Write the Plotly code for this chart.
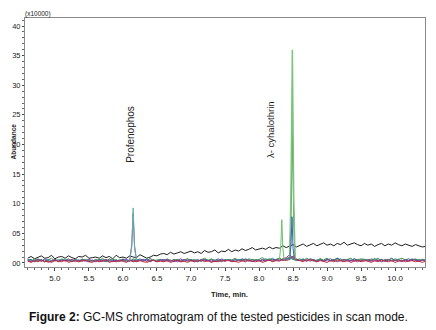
import plotly.graph_objects as go

# ---------------- data ----------------
time_min = [round(4.60 + 0.05 * i, 2) for i in range(118)]

black_trace = [0.8,1.1,0.7,1.0,1.2,0.8,0.9,1.3,0.7,1.0,1.1,0.8,1.2,0.9,0.7,1.1,1.0,1.3,0.8,0.9,
               1.0,0.8,1.2,0.9,1.1,0.7,1.3,0.9,1.0,0.8,1.2,1.0,0.9,1.4,1.1,0.8,1.0,1.3,1.2,1.5,
               1.6,1.4,1.8,1.5,1.7,1.9,1.6,1.8,2.0,1.7,1.9,1.6,2.1,1.8,1.9,2.2,1.7,2.0,1.9,2.3,
               1.9,2.2,2.0,2.4,2.1,2.3,2.6,2.2,2.4,2.5,2.3,2.7,2.4,2.6,2.5,2.9,2.6,2.8,3.1,2.7,
               2.9,3.2,2.8,3.0,3.3,2.9,3.1,3.4,3.0,3.2,2.9,3.3,3.1,3.5,3.0,3.2,3.4,3.1,2.9,3.3,
               3.0,3.2,2.8,3.1,3.3,2.9,3.2,3.0,3.4,3.1,2.9,3.2,3.0,2.8,3.1,2.9,2.7,2.8]

green_trace = [0.5,0.3,0.7,0.4,0.6,0.2,0.5,0.8,0.3,0.6,0.4,0.7,0.3,0.5,0.6,0.2,0.7,0.4,0.5,0.3,
               0.6,0.4,0.8,0.3,0.5,0.7,0.2,0.6,0.4,0.5,0.3,0.7,0.5,0.4,0.6,0.3,0.8,0.4,0.5,0.6,
               0.3,0.7,0.4,0.5,0.6,0.3,0.5,0.7,0.4,0.6,0.3,0.5,0.8,0.4,0.6,0.5,0.3,0.7,0.4,0.6,
               0.5,0.8,0.4,0.6,0.3,0.7,0.5,0.4,0.6,0.9,0.5,0.7,0.4,0.6,0.8,0.5,0.7,1.0,0.6,0.5,
               0.7,0.4,0.8,0.5,0.6,0.3,0.7,0.5,0.8,0.4,0.6,0.5,0.7,0.3,0.6,0.8,0.4,0.5,0.7,0.6,
               0.4,0.7,0.5,0.8,0.3,0.6,0.5,0.7,0.4,0.6,0.8,0.5,0.4,0.7,0.5,0.6,0.4,0.5]

red_trace = [0.3,0.1,0.4,0.2,0.5,0.2,0.3,0.1,0.4,0.3,0.2,0.5,0.1,0.3,0.4,0.2,0.3,0.5,0.2,0.1,
             0.4,0.2,0.3,0.5,0.1,0.3,0.2,0.4,0.3,0.1,0.5,0.2,0.3,0.4,0.2,0.1,0.3,0.5,0.2,0.3,
             0.2,0.4,0.1,0.3,0.5,0.2,0.3,0.1,0.4,0.2,0.3,0.5,0.2,0.4,0.1,0.3,0.2,0.4,0.3,0.5,
             0.2,0.3,0.1,0.4,0.2,0.5,0.3,0.2,0.4,0.1,0.3,0.5,0.2,0.4,0.3,0.6,0.4,0.6,1.2,0.7,
             0.4,0.2,0.6,0.3,0.5,0.2,0.4,0.3,0.1,0.4,0.2,0.5,0.3,0.2,0.4,0.1,0.3,0.5,0.2,0.4,
             0.3,0.1,0.4,0.2,0.5,0.3,0.2,0.4,0.1,0.3,0.5,0.2,0.3,0.4,0.2,0.3,0.1,0.3]

blue_trace = [0.4,0.6,0.2,0.5,0.3,0.7,0.4,0.2,0.6,0.3,0.5,0.4,0.7,0.2,0.5,0.3,0.6,0.4,0.2,0.5,
              0.3,0.6,0.4,0.2,0.7,0.4,0.5,0.3,0.6,0.2,0.4,0.5,0.3,0.7,0.4,0.6,0.2,0.5,0.3,0.4,
              0.6,0.3,0.5,0.2,0.4,0.7,0.3,0.5,0.6,0.2,0.4,0.3,0.6,0.5,0.2,0.4,0.7,0.3,0.5,0.4,
              0.3,0.6,0.4,0.7,0.5,0.3,0.6,0.4,0.5,0.3,0.7,0.4,0.6,0.5,0.8,0.4,0.6,0.7,0.9,0.5,
              0.4,0.6,0.3,0.7,0.5,0.4,0.6,0.3,0.5,0.7,0.4,0.8,0.5,0.3,0.6,0.4,0.7,0.5,0.3,0.6,
              0.5,0.3,0.7,0.4,0.6,0.3,0.5,0.8,0.4,0.6,0.3,0.5,0.7,0.4,0.6,0.3,0.5,0.4]

purple_trace = [0.5,0.2,0.4,0.6,0.3,0.5,0.1,0.4,0.6,0.2,0.5,0.3,0.4,0.6,0.2,0.5,0.4,0.3,0.6,0.4,
                0.2,0.5,0.3,0.6,0.4,0.2,0.5,0.3,0.4,0.6,0.3,0.5,0.2,0.4,0.6,0.3,0.5,0.4,0.2,0.5,
                0.4,0.6,0.3,0.5,0.2,0.4,0.6,0.3,0.5,0.4,0.2,0.6,0.4,0.3,0.5,0.2,0.4,0.6,0.3,0.5,
                0.4,0.2,0.5,0.3,0.6,0.4,0.2,0.5,0.3,0.6,0.4,0.5,0.3,0.6,0.4,0.7,0.9,1.4,0.8,0.6,
                0.4,0.5,0.3,0.6,0.4,0.2,0.5,0.3,0.6,0.4,0.5,0.2,0.4,0.6,0.3,0.5,0.4,0.2,0.5,0.3,
                0.6,0.4,0.3,0.5,0.2,0.4,0.6,0.3,0.5,0.4,0.2,0.5,0.3,0.6,0.4,0.3,0.5,0.4]

teal_trace = [0.6,0.4,0.3,0.7,0.5,0.2,0.6,0.4,0.5,0.3,0.7,0.4,0.5,0.2,0.6,0.4,0.3,0.6,0.5,0.3,
              0.5,0.3,0.6,0.4,0.2,0.6,0.5,0.3,0.7,0.4,0.5,0.2,0.6,0.4,0.3,0.7,0.4,0.5,0.3,0.6,
              0.4,0.5,0.3,0.6,0.4,0.2,0.5,0.7,0.3,0.4,0.6,0.3,0.5,0.4,0.7,0.3,0.5,0.2,0.6,0.4,
              0.5,0.3,0.6,0.4,0.7,0.5,0.3,0.6,0.4,0.5,0.3,0.6,0.8,0.4,0.6,0.5,0.7,0.9,0.6,0.4,
              0.5,0.7,0.4,0.6,0.3,0.5,0.7,0.4,0.6,0.3,0.5,0.8,0.4,0.6,0.5,0.3,0.7,0.4,0.5,0.6,
              0.3,0.5,0.7,0.4,0.6,0.3,0.5,0.4,0.7,0.5,0.3,0.6,0.4,0.5,0.7,0.4,0.6,0.5]

# peaks (retention time, abundance x10000)
profenophos_t = [6.10, 6.13, 6.15, 6.17, 6.20]
profenophos_teal = [0.4, 2.8, 9.3, 2.5, 0.5]
profenophos_purple = [0.5, 3.2, 8.4, 3.0, 0.4]

cyh_small_t = [8.30, 8.32, 8.335, 8.35, 8.37]
cyh_small_green = [0.5, 2.8, 7.3, 2.6, 0.5]

cyh_t = [8.45, 8.47, 8.49, 8.51, 8.53]
cyh_green = [0.6, 12.0, 36.0, 11.0, 0.6]
cyh_darkgreen = [0.5, 8.0, 23.5, 7.5, 0.5]
cyh_blue_t = [8.45, 8.47, 8.485, 8.50, 8.52]
cyh_blue = [0.5, 3.0, 7.8, 2.5, 0.6]

y_tickvals = [0, 5, 10, 15, 20, 25, 30, 35, 40]
y_ticktext = ["00", "05", "10", "15", "20", "25", "30", "35", "40"]
x_tickvals = [5.0, 5.5, 6.0, 6.5, 7.0, 7.5, 8.0, 8.5, 9.0, 9.5, 10.0]
x_ticktext = ["5.0", "5.5", "6.0", "6.5", "7.0", "7.5", "8.0", "8.5", "9.0", "9.5", "10.0"]

# ---------------- figure ----------------
FONT = "Liberation Sans, Arial, sans-serif"
fig = go.Figure()

def add_line(x, y, color, width=1.0):
    n = min(len(x), len(y))
    fig.add_trace(go.Scatter(x=x[:n], y=y[:n], mode="lines",
                             line=dict(color=color, width=width),
                             showlegend=False, hoverinfo="skip"))

add_line(time_min, black_trace, "#1e1e1e")
add_line(time_min, teal_trace, "#2a9d9a")
add_line(time_min, blue_trace, "#3452b8")
add_line(time_min, green_trace, "#3c9a4a")
add_line(time_min, purple_trace, "#9a3a9a")
add_line(time_min, red_trace, "#c8283c")

add_line(profenophos_t, profenophos_purple, "#9a4a9a")
add_line(profenophos_t, profenophos_teal, "#5fb0aa")
add_line(cyh_small_t, cyh_small_green, "#6cbf6c")
add_line(cyh_t, cyh_darkgreen, "#2e7d3a")
add_line(cyh_t, cyh_green, "#7cc47c", 1.5)
add_line(cyh_blue_t, cyh_blue, "#4060c0")

# the page body has an 8px margin, so the figure is drawn 8px in from the window edge
OFF = 8
W, H = 436 - OFF, 330 - OFF
L, R, T, B = 25 - OFF, 11, 18 - OFF, 63

fig.update_layout(
    template="none",
    width=W, height=H,
    margin=dict(l=L, r=R, t=T, b=B, pad=0, autoexpand=False),
    paper_bgcolor="white", plot_bgcolor="white",
    font=dict(family=FONT, size=8, color="#222222"),
    showlegend=False,
)
fig.update_xaxes(
    automargin=False,
    range=[4.56, 10.44], tickvals=x_tickvals, ticktext=x_ticktext,
    ticks="outside", ticklen=3, tickcolor="#444444", tickwidth=1,
    showline=True, linecolor="#8a8a8a", linewidth=1, mirror=True,
    showgrid=False, zeroline=False,
    tickfont=dict(size=8, family=FONT, color="#222222"),
    minor=dict(dtick=0.1, ticks="outside", ticklen=2, tickcolor="#666666", showgrid=False),
)
fig.update_yaxes(
    automargin=False,
    range=[-0.68, 41.35], tickvals=y_tickvals, ticktext=y_ticktext,
    ticks="outside", ticklen=2, tickcolor="#444444", tickwidth=1,
    showline=True, linecolor="#8a8a8a", linewidth=1, mirror=True,
    showgrid=False, zeroline=False,
    tickfont=dict(size=7.5, family=FONT, color="#222222"),
    minor=dict(dtick=1, ticks="outside", ticklen=2, tickcolor="#666666", showgrid=False),
)

pw, ph = W - L - R, H - T - B

def px_to_paper(px, py):
    # window pixel -> paper coordinates
    return (px - OFF - L) / pw, 1 - (py - OFF - T) / ph

fig.add_annotation(text="Profenophos", x=6.12, y=16.5, xref="x", yref="y", textangle=-90,
                   xanchor="center", yanchor="bottom", showarrow=False,
                   font=dict(size=10, family=FONT, color="#222222"))
fig.add_annotation(text="λ- cyhalothrin", x=8.17, y=17.4, xref="x", yref="y", textangle=-90,
                   xanchor="center", yanchor="bottom", showarrow=False,
                   font=dict(size=9.5, family=FONT, color="#222222"))

ax, ay = px_to_paper(OFF, 142)
fig.add_annotation(text="<b>Abundance</b>", x=ax, y=ay, xref="paper", yref="paper",
                   xanchor="left", yanchor="middle", textangle=-90, showarrow=False,
                   borderpad=0, font=dict(size=6.5, family=FONT, color="#222222"))

ax, ay = px_to_paper(23, 14)
fig.add_annotation(text="(x10000)", x=ax, y=ay, xref="paper", yref="paper",
                   xanchor="left", yanchor="middle", showarrow=False,
                   font=dict(size=6.5, family=FONT, color="#222222"))

ax, ay = px_to_paper(230, 294)
fig.add_annotation(text="<b>Time, min.</b>", x=ax, y=ay, xref="paper", yref="paper",
                   xanchor="center", yanchor="middle", showarrow=False,
                   font=dict(size=7.5, family=FONT, color="#222222"))

ax, ay = px_to_paper(218, 317)
fig.add_annotation(text="<b>Figure 2:</b> GC-MS chromatogram of the tested pesticides in scan mode.",
                   x=ax, y=ay, xref="paper", yref="paper",
                   xanchor="center", yanchor="middle", showarrow=False,
                   font=dict(size=12, family=FONT, color="#111111"))

fig.write_html("out.html")
